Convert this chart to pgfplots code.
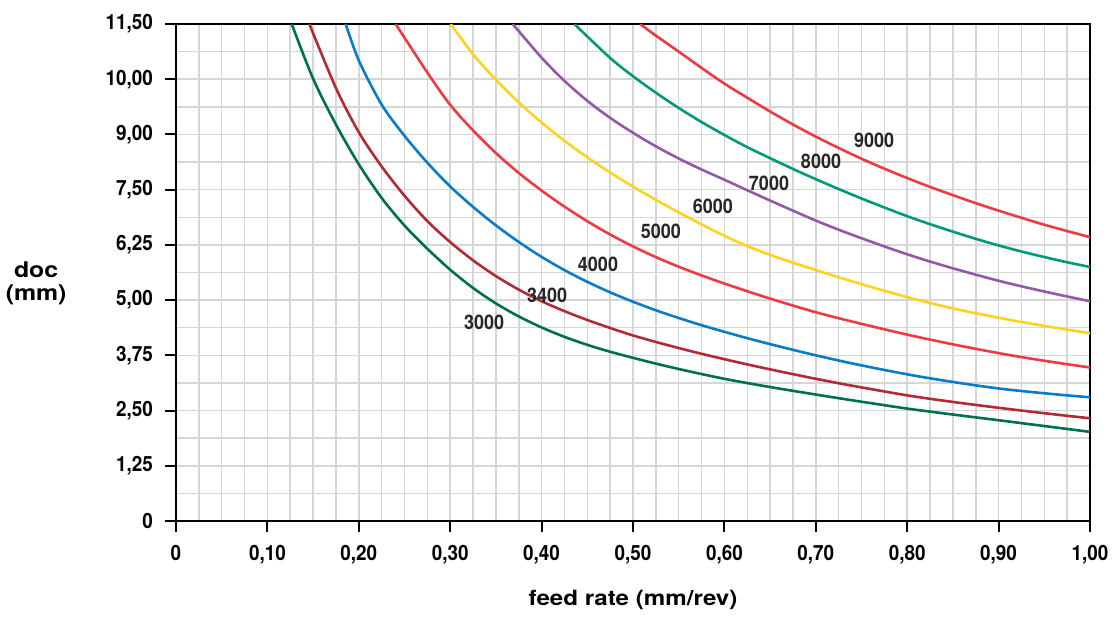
\documentclass[border=0pt]{standalone}
\usepackage{fontspec}
\setmainfont{TeX Gyre Heros}
\newfontfamily\condfont{TeX Gyre Heros}[FakeStretch=0.9]
\newfontfamily\widefont{TeX Gyre Heros}[FakeStretch=1.15]
\usepackage{pgfplots}
\pgfplotsset{compat=1.18}
\definecolor{cA}{HTML}{00704A}
\definecolor{cB}{HTML}{B22A33}
\definecolor{cC}{HTML}{0A7BC8}
\definecolor{cD}{HTML}{EE3A43}
\definecolor{cE}{HTML}{FFD21F}
\definecolor{cF}{HTML}{9159A8}
\definecolor{cG}{HTML}{00997B}
\definecolor{cH}{HTML}{EE3A43}
\definecolor{gridc}{HTML}{D6D6D6}
\begin{document}
\begin{tikzpicture}
\begin{axis}[
  at={(0,0)}, anchor=south west,
  scale only axis, width=457pt, height=248.5pt,
  xmin=0, xmax=1, ymin=0, ymax=9,
  axis line style={line width=1pt, black},
  xtick={0,0.1,0.2,0.3,0.4,0.5,0.6,0.7,0.8,0.9,1},
  xticklabels={0,{0,10},{0,20},{0,30},{0,40},{0,50},{0,60},{0,70},{0,80},{0,90},{1,00}},
  ytick={0,1,2,3,4,5,6,7,8,9},
  yticklabels={0,{1,25},{2,50},{3,75},{5,00},{6,25},{7,50},{9,00},{10,00},{11,50}},
  minor x tick num=3, minor y tick num=1,
  grid=both,
  major grid style={line width=0.75pt, gridc},
  minor grid style={line width=0.75pt, gridc},
  tick align=outside, tick pos=left,
  major tick length=5.5pt, minor tick length=0pt,
  tick style={line width=1pt, black},
  ticklabel style={font=\condfont\bfseries\fontsize{10.5}{12}\selectfont},
  xticklabel style={yshift=-3pt},
  yticklabel style={xshift=-2.5pt},
  xlabel={feed rate (mm/rev)},
  xlabel style={font=\widefont\bfseries\fontsize{10.5}{12}\selectfont, at={(axis description cs:0.5,-0.171)}, anchor=base},
  ylabel={doc\\(mm)},
  ylabel style={rotate=-90, font=\widefont\bfseries\fontsize{10.8}{11.5}\selectfont, at={(axis description cs:-0.153,0.479)}, anchor=center, align=center},
  every axis plot/.append style={line width=1.3pt, smooth, no markers},
  clip=true,
]
% 3000
\addplot[cA] coordinates {(0.1266,9.00)(0.15,8.01)(0.175,7.18)(0.2,6.46)(0.225,5.85)(0.25,5.35)(0.275,4.93)(0.3,4.55)(0.325,4.22)(0.35,3.94)(0.375,3.705)(0.4,3.505)(0.425,3.335)(0.45,3.19)(0.475,3.065)(0.5,2.955)(0.525,2.85)(0.55,2.753)(0.575,2.661)(0.6,2.575)(0.625,2.498)(0.65,2.426)(0.675,2.357)(0.7,2.29)(0.725,2.224)(0.75,2.16)(0.775,2.097)(0.8,2.035)(0.825,1.981)(0.85,1.928)(0.875,1.876)(0.9,1.825)(0.925,1.772)(0.95,1.72)(0.975,1.667)(1.0,1.615)};
% 3400
\addplot[cB] coordinates {(0.1459,9.00)(0.175,7.84)(0.2,7.04)(0.225,6.42)(0.25,5.89)(0.275,5.43)(0.3,5.05)(0.325,4.72)(0.35,4.435)(0.375,4.19)(0.4,3.98)(0.425,3.80)(0.45,3.64)(0.475,3.495)(0.5,3.36)(0.525,3.242)(0.55,3.132)(0.575,3.028)(0.6,2.93)(0.625,2.836)(0.65,2.746)(0.675,2.659)(0.7,2.575)(0.725,2.495)(0.75,2.419)(0.775,2.346)(0.8,2.275)(0.825,2.213)(0.85,2.156)(0.875,2.102)(0.9,2.05)(0.925,2.0)(0.95,1.952)(0.975,1.905)(1.0,1.86)};
% 4000
\addplot[cC] coordinates {(0.1857,9.00)(0.2,8.34)(0.225,7.54)(0.25,6.975)(0.275,6.488)(0.3,6.058)(0.325,5.688)(0.35,5.353)(0.375,5.053)(0.4,4.783)(0.425,4.543)(0.45,4.331)(0.475,4.141)(0.5,3.971)(0.525,3.816)(0.55,3.676)(0.575,3.546)(0.6,3.426)(0.625,3.311)(0.65,3.203)(0.675,3.10)(0.7,3.0)(0.725,2.906)(0.75,2.818)(0.775,2.735)(0.8,2.656)(0.825,2.584)(0.85,2.518)(0.875,2.456)(0.9,2.40)(0.925,2.354)(0.95,2.313)(0.975,2.275)(1.0,2.24)};
% 5000
\addplot[cD] coordinates {(0.2403,9.00)(0.275,8.12)(0.3,7.536)(0.325,7.073)(0.35,6.663)(0.375,6.303)(0.4,5.983)(0.425,5.693)(0.45,5.428)(0.475,5.188)(0.5,4.973)(0.525,4.778)(0.55,4.605)(0.575,4.447)(0.6,4.30)(0.625,4.16)(0.65,4.027)(0.675,3.901)(0.7,3.78)(0.725,3.672)(0.75,3.57)(0.775,3.471)(0.8,3.375)(0.825,3.285)(0.85,3.199)(0.875,3.118)(0.9,3.04)(0.925,2.968)(0.95,2.902)(0.975,2.839)(1.0,2.78)};
% 6000
\addplot[cE] coordinates {(0.3005,9.00)(0.325,8.45)(0.35,7.99)(0.375,7.58)(0.4,7.215)(0.425,6.885)(0.45,6.585)(0.475,6.31)(0.5,6.055)(0.525,5.815)(0.55,5.588)(0.575,5.371)(0.6,5.164)(0.625,4.979)(0.65,4.819)(0.675,4.677)(0.7,4.544)(0.725,4.414)(0.75,4.289)(0.775,4.169)(0.8,4.054)(0.825,3.947)(0.85,3.85)(0.875,3.762)(0.9,3.68)(0.925,3.604)(0.95,3.533)(0.975,3.465)(1.0,3.40)};
% 7000
\addplot[cF] coordinates {(0.3684,9.00)(0.4,8.39)(0.425,7.97)(0.45,7.61)(0.475,7.30)(0.5,7.03)(0.525,6.785)(0.55,6.565)(0.575,6.365)(0.6,6.18)(0.625,5.99)(0.65,5.803)(0.675,5.62)(0.7,5.44)(0.725,5.275)(0.75,5.12)(0.775,4.972)(0.8,4.83)(0.825,4.698)(0.85,4.576)(0.875,4.461)(0.9,4.35)(0.925,4.25)(0.95,4.156)(0.975,4.066)(1.0,3.98)};
% 8000
\addplot[cG] coordinates {(0.4358,9.00)(0.475,8.385)(0.5,8.055)(0.525,7.755)(0.55,7.48)(0.575,7.225)(0.6,6.99)(0.625,6.77)(0.65,6.57)(0.675,6.375)(0.7,6.19)(0.725,6.012)(0.75,5.84)(0.775,5.677)(0.8,5.52)(0.825,5.375)(0.85,5.24)(0.875,5.11)(0.9,4.99)(0.925,4.88)(0.95,4.78)(0.975,4.685)(1.0,4.60)};
% 9000
\addplot[cH] coordinates {(0.5077,9.00)(0.525,8.79)(0.55,8.50)(0.575,8.205)(0.6,7.92)(0.625,7.665)(0.65,7.415)(0.675,7.18)(0.7,6.96)(0.725,6.755)(0.75,6.56)(0.775,6.38)(0.8,6.21)(0.825,6.05)(0.85,5.90)(0.875,5.755)(0.9,5.62)(0.925,5.49)(0.95,5.365)(0.975,5.25)(1.0,5.14)};
\begin{scope}[every node/.style={font=\condfont\bfseries\fontsize{10}{12}\selectfont, text=black!85}]
\node at (axis cs:0.337,3.59) {3000};
\node at (axis cs:0.406,4.09) {3400};
\node at (axis cs:0.4617,4.64) {4000};
\node at (axis cs:0.5306,5.24) {5000};
\node at (axis cs:0.5875,5.69) {6000};
\node at (axis cs:0.6488,6.12) {7000};
\node at (axis cs:0.7057,6.52) {8000};
\node at (axis cs:0.7637,6.90) {9000};
\end{scope}
\end{axis}
\pgfresetboundingbox
\path[use as bounding box] (-88pt,-47.5pt) rectangle (468.5pt,260.5pt);
\end{tikzpicture}
\end{document}
